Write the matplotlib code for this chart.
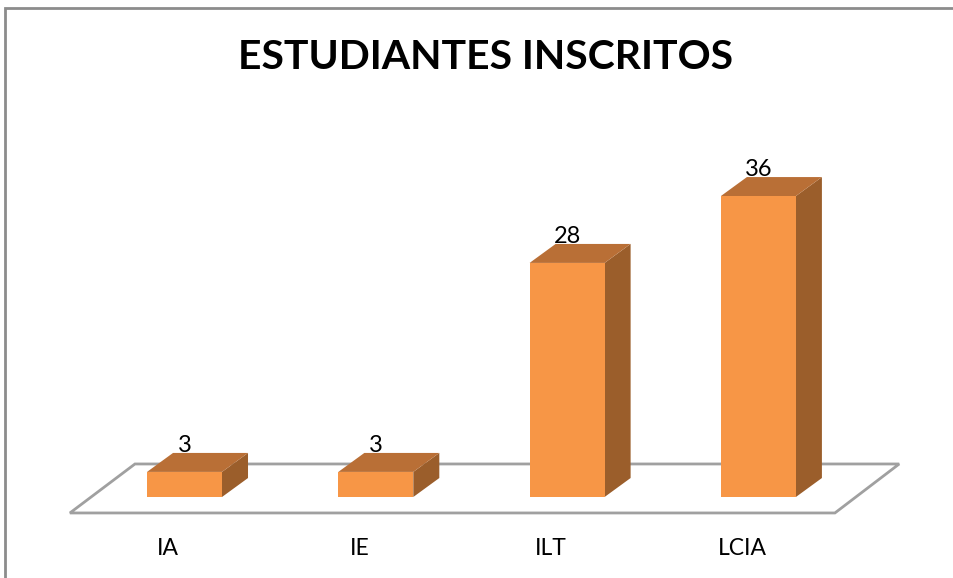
import numpy as np
import matplotlib
matplotlib.use("Agg")
import matplotlib.pyplot as plt
from matplotlib.patches import Polygon, Rectangle

categorias = ["IA", "IE", "ILT", "LCIA"]
inscritos = [3, 3, 28, 36]
titulo = "ESTUDIANTES INSCRITOS"

plt.rcParams['font.family'] = ['Lato', 'DejaVu Sans']

# colores de las caras de la barra
c_frente = "#F79646"
c_arriba = "#B96F36"
c_lado = "#9B5E2B"
c_piso = "#A0A0A0"

fig = plt.figure(figsize=(9.54, 5.78), dpi=100)
ax = fig.add_axes([0, 0, 1, 1])
# escala: 1 categoria = 191.3 px, 1 alumno = 8.36 px
ax.set_xlim(-0.9645, 4.0225)
ax.set_ylim(-9.69, 59.45)
ax.axis("off")

ancho = 0.196      # mitad del ancho de la barra
dx, dy = 0.136, 2.27   # profundidad de la barra

# piso
piso = Polygon([(-0.599, -1.91), (3.40, -1.91), (3.736, 3.95), (-0.259, 3.95)],
               closed=True, facecolor="white", edgecolor=c_piso, lw=2, zorder=1)
ax.add_patch(piso)

for i, v in enumerate(inscritos):
    x0, x1 = i - ancho, i + ancho
    ax.add_patch(Polygon([(x1, 0), (x1 + dx, dy), (x1 + dx, v + dy), (x1, v)],
                         closed=True, facecolor=c_lado, edgecolor="none", zorder=2))
    ax.add_patch(Polygon([(x0, v), (x1, v), (x1 + dx, v + dy), (x0 + dx, v + dy)],
                         closed=True, facecolor=c_arriba, edgecolor="none", zorder=2))
    ax.add_patch(Rectangle((x0, 0), 2 * ancho, v, facecolor=c_frente,
                           edgecolor="none", zorder=3))
    ax.text(i, v + dy - 0.35, str(v), ha="center", va="bottom", fontsize=17,
            color="black", zorder=4)
    ax.text(i - 0.085, -6.2, categorias[i], ha="center", va="center",
            fontsize=16.5, color="black")

ax.text(1.576, 52.6, titulo, ha="center", va="center", fontsize=29.4,
        fontweight="bold", color="black")

# marco del grafico
marco = Rectangle((5 / 954, -0.05), 1.2, (578 - 8.5) / 578 + 0.05, transform=fig.transFigure,
                  facecolor="none", edgecolor="#8C8C8C", lw=2, clip_on=False)
fig.patches.append(marco)

fig.savefig("out.png", dpi=100)
